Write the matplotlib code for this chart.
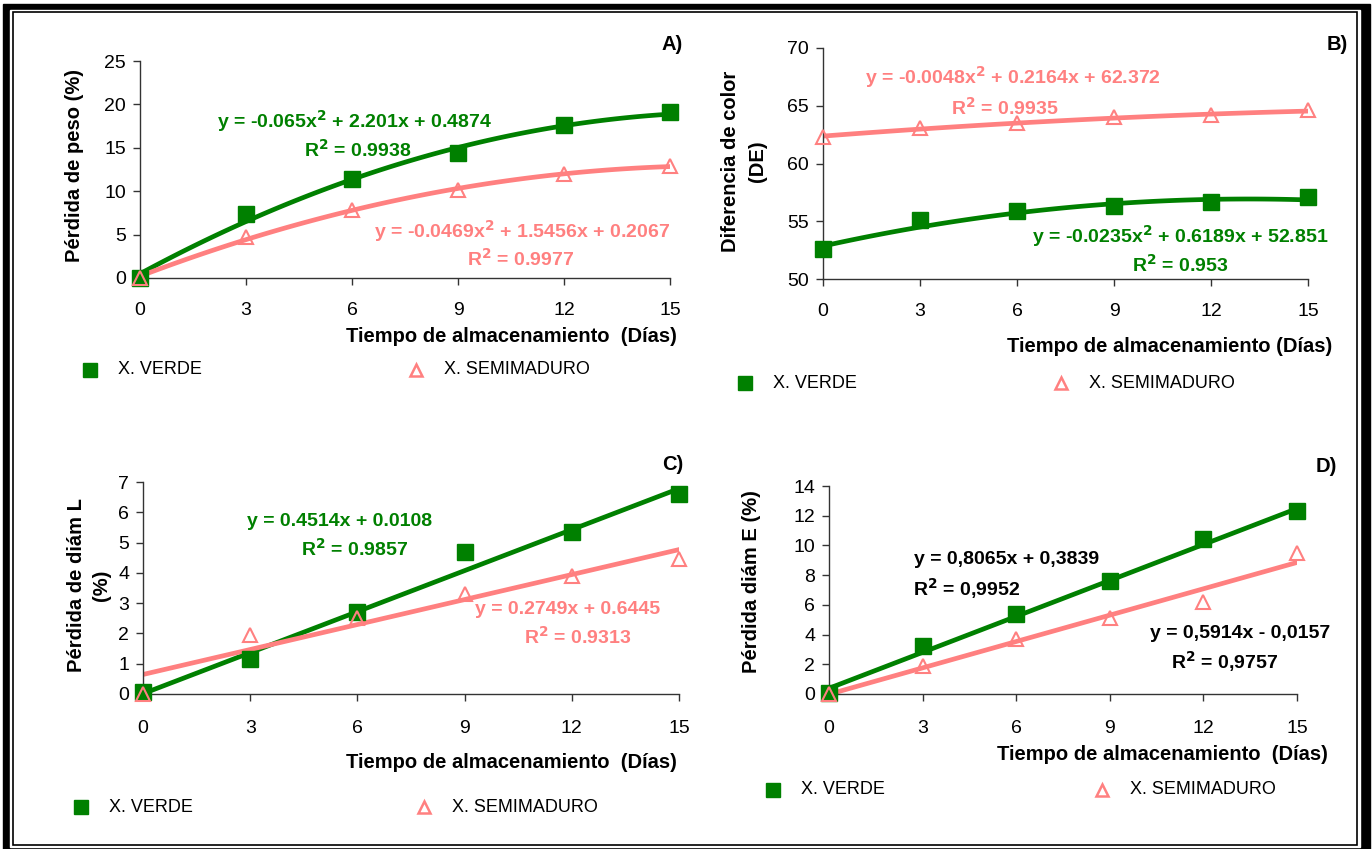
import matplotlib as mpl
mpl.use('Agg')
import matplotlib.pyplot as plt
from matplotlib.patches import Rectangle
import numpy as np

plt.rcParams['font.family'] = ['Liberation Sans Narrow', 'Liberation Sans', 'DejaVu Sans']

GREEN = '#008000'
PINK = '#ff8080'

dias = [0, 3, 6, 9, 12, 15]

# A) perdida de peso
peso_verde = [0.0, 7.4, 11.4, 14.4, 17.6, 19.1]
peso_semi = [0.0, 4.7, 7.8, 10.1, 12.0, 12.9]
peso_fit_verde = [-0.065, 2.201, 0.4874]
peso_fit_semi = [-0.0469, 1.5456, 0.2067]

# B) diferencia de color
color_verde = [52.6, 55.1, 55.9, 56.3, 56.7, 57.1]
color_semi = [62.3, 63.1, 63.5, 64.0, 64.2, 64.6]
color_fit_verde = [-0.0235, 0.6189, 52.851]
color_fit_semi = [-0.0048, 0.2164, 62.372]

# C) perdida diam L
diaml_verde = [0.05, 1.15, 2.7, 4.7, 5.35, 6.6]
diaml_semi = [0.0, 1.95, 2.5, 3.3, 3.9, 4.45]
diaml_fit_verde = [0.4514, 0.0108]
diaml_fit_semi = [0.2749, 0.6445]

# D) perdida diam E
diame_verde = [0.1, 3.2, 5.4, 7.6, 10.4, 12.3]
diame_semi = [0.0, 1.9, 3.7, 5.1, 6.2, 9.5]
diame_fit_verde = [0.8065, 0.3839]
diame_fit_semi = [0.5914, -0.0157]

W, H = 1372, 849
fig = plt.figure(figsize=(W / 100, H / 100), dpi=100)


def px_axes(x0, y0, x1, y1):
    return fig.add_axes([x0 / W, 1 - y1 / H, (x1 - x0) / W, (y1 - y0) / H])


def ftext(x, y, s, **kw):
    fig.text(x / W, 1 - y / H, s, **kw)


def frect(x0, y0, x1, y1, **kw):
    fig.patches.append(Rectangle((x0 / W, 1 - y1 / H), (x1 - x0) / W, (y1 - y0) / H,
                                 transform=fig.transFigure, zorder=-5, **kw))


def panel(ax, verde, semi, fit_v, fit_s, ylim, yticks, xpad=13):
    xs = np.linspace(0, 15, 100)
    ax.set_facecolor('none')
    ax.plot(xs, np.polyval(fit_v, xs), color=GREEN, lw=3.4, zorder=2)
    ax.plot(xs, np.polyval(fit_s, xs), color=PINK, lw=3.4, zorder=2)
    ax.plot(dias, verde, ls='none', marker='s', ms=11, color=GREEN, zorder=3, clip_on=False)
    ax.plot(dias, semi, ls='none', marker='^', ms=10, mfc='none', mec=PINK, mew=1.5, zorder=3, clip_on=False)
    ax.set_xlim(0, 15)
    ax.set_ylim(*ylim)
    ax.set_xticks(dias)
    ax.set_yticks(yticks)
    for s in ['top', 'right']:
        ax.spines[s].set_visible(False)
    for s in ['left', 'bottom']:
        ax.spines[s].set_color('#333333')
        ax.spines[s].set_linewidth(1)
    ax.tick_params(direction='out', length=5, width=1, color='#333333', labelsize=14, pad=5)
    ax.tick_params(axis='x', pad=xpad)


eq_kw = dict(fontsize=14, fontweight='bold', ha='center', va='center')
lab_kw = dict(fontsize=14.5, fontweight='bold', family=['Liberation Sans', 'DejaVu Sans'])
xlab_kw = dict(fontsize=14.5, fontweight='bold', ha='right', va='center')
leg_kw = dict(fontsize=13, va='center', family=['Liberation Sans', 'DejaVu Sans'])

# A
axA = px_axes(140, 61, 670, 278)
panel(axA, peso_verde, peso_semi, peso_fit_verde, peso_fit_semi, (0, 25), range(0, 26, 5), xpad=12.5)
ftext(355, 121, 'y = -0.065x$^{\\mathbf{2}}$ + 2.201x + 0.4874', color=GREEN, **eq_kw)
ftext(358, 150, 'R$^{\\mathbf{2}}$ = 0.9938', color=GREEN, **eq_kw)
ftext(522, 231, 'y = -0.0469x$^{\\mathbf{2}}$ + 1.5456x + 0.2067', color=PINK, **eq_kw)
ftext(521, 259, 'R$^{\\mathbf{2}}$ = 0.9977', color=PINK, **eq_kw)
ftext(74, 166, 'Pérdida de peso (%)', rotation=90, ha='center', va='center', **lab_kw)
ftext(677, 337, 'Tiempo de almacenamiento  (Días)', **xlab_kw)
ftext(683, 44, 'A)', ha='right', va='center', **lab_kw)

# B
axB = px_axes(823, 48, 1308, 279)
panel(axB, color_verde, color_semi, color_fit_verde, color_fit_semi, (50, 70), range(50, 71, 5), xpad=12)
ftext(1013, 77, 'y = -0.0048x$^{\\mathbf{2}}$ + 0.2164x + 62.372', color=PINK, **eq_kw)
ftext(1005, 108, 'R$^{\\mathbf{2}}$ = 0.9935', color=PINK, **eq_kw)
ftext(1180, 236, 'y = -0.0235x$^{\\mathbf{2}}$ + 0.6189x + 52.851', color=GREEN, **eq_kw)
ftext(1180, 265, 'R$^{\\mathbf{2}}$ = 0.953', color=GREEN, **eq_kw)
ftext(744, 161, 'Diferencia de color\n(DE)', rotation=90, ha='center', va='center',
      multialignment='center', linespacing=1.5, **lab_kw)
ftext(1332, 347, 'Tiempo de almacenamiento (Días)', **xlab_kw)
ftext(1348, 45, 'B)', ha='right', va='center', **lab_kw)

# C
axC = px_axes(143, 482, 679, 694)
panel(axC, diaml_verde, diaml_semi, diaml_fit_verde, diaml_fit_semi, (0, 7), range(0, 8), xpad=13.5)
ftext(340, 522, 'y = 0.4514x + 0.0108', color=GREEN, **eq_kw)
ftext(355, 549, 'R$^{\\mathbf{2}}$ = 0.9857', color=GREEN, **eq_kw)
ftext(568, 610, 'y = 0.2749x + 0.6445', color=PINK, **eq_kw)
ftext(578, 637, 'R$^{\\mathbf{2}}$ = 0.9313', color=PINK, **eq_kw)
ftext(89, 585, 'Pérdida de diám L\n(%)', rotation=90, ha='center', va='center',
      multialignment='center', linespacing=1.45, **lab_kw)
ftext(677, 762, 'Tiempo de almacenamiento  (Días)', **xlab_kw)
ftext(683, 465, 'C)', ha='right', va='center', **lab_kw)

# D
axD = px_axes(829, 486, 1297, 694)
panel(axD, diame_verde, diame_semi, diame_fit_verde, diame_fit_semi, (0, 14), range(0, 15, 2), xpad=13.5)
ftext(1007, 560, 'y = 0,8065x + 0,3839', color='black', **eq_kw)
ftext(967, 589, 'R$^{\\mathbf{2}}$ = 0,9952', color='black', **eq_kw)
ftext(1240, 633, 'y = 0,5914x - 0,0157', color='black', **eq_kw)
ftext(1225, 662, 'R$^{\\mathbf{2}}$ = 0,9757', color='black', **eq_kw)
ftext(751, 582, 'Pérdida diám E (%)', rotation=90, ha='center', va='center', **lab_kw)
ftext(1328, 754, 'Tiempo de almacenamiento  (Días)', **xlab_kw)
ftext(1337, 467, 'D)', ha='right', va='center', **lab_kw)

# legends: (square x, triangle x, y) in pixels
leg_sq_x = [90, 745, 81, 773]
leg_tri_x = [416, 1061, 424, 1102]
leg_y = [370, 383, 807, 790]

lax = fig.add_axes([0, 0, 1, 1], facecolor='none')
lax.set_xlim(0, W)
lax.set_ylim(H, 0)
lax.axis('off')
lax.plot(leg_sq_x, leg_y, marker='s', ms=9.5, color=GREEN, ls='none')
lax.plot(leg_tri_x, leg_y, marker='^', ms=9, mfc='none', mec=PINK, mew=1.8, ls='none')
for xs, xt, y in zip(leg_sq_x, leg_tri_x, leg_y):
    ftext(xs + 28, y, 'X. VERDE', **leg_kw)
    ftext(xt + 28, y, 'X. SEMIMADURO', **leg_kw)

# frame
frect(3, 4, 1370, 849, color='black')
frect(10, 10, 1360, 847, color='white')
frect(13, 12, 1357, 845, fill=False, ec='black', lw=1.2)

fig.savefig('out.png', dpi=100)
